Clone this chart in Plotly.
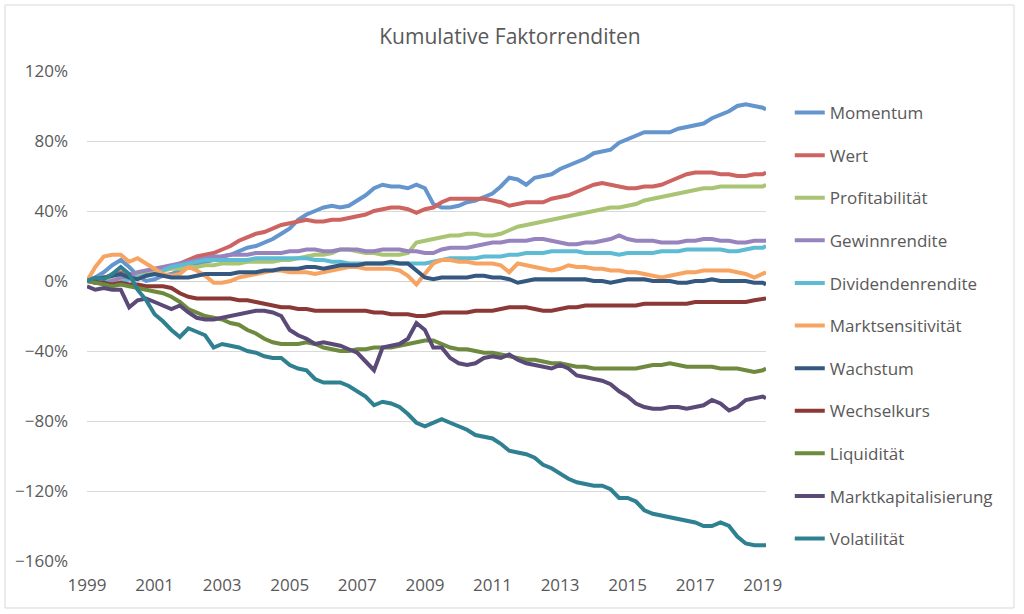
import pandas as pd
import plotly.graph_objects as go

# quarterly points 1999-2019 (values in %)
dates = list(pd.date_range("1999-01-01", "2019-01-01", freq="QS").strftime("%Y-%m-%d")) + ["2019-02-05"]

momentum = [0, 2, 5, 9,  12, 8, 3, 0,  1, 3, 4, 6,  8, 9, 11, 12,  14, 15, 17, 19,
            20, 22, 24, 27,  30, 35, 38, 40,  42, 43, 42, 43,  46, 49, 53, 55,  54, 54, 53, 55,
            53, 44, 42, 42,  43, 45, 46, 48,  50, 54, 59, 58,  55, 59, 60, 61,  64, 66, 68, 70,
            73, 74, 75, 79,  81, 83, 85, 85,  85, 85, 87, 88,  89, 90, 93, 95,  97, 100, 101, 100,
            99, 98]
wert = [0, 1, 2, 3,  5, 4, 3, 4,  5, 6, 8, 10,  12, 14, 15, 16,  18, 20, 23, 25,
        27, 28, 30, 32,  33, 34, 35, 34,  34, 35, 35, 36,  37, 38, 40, 41,  42, 42, 41, 39,
        41, 42, 45, 47,  47, 47, 47, 47,  46, 45, 43, 44,  45, 45, 45, 47,  48, 49, 51, 53,
        55, 56, 55, 54,  53, 53, 54, 54,  55, 57, 59, 61,  62, 62, 62, 61,  61, 60, 60, 61,
        61, 62]
profitabilitaet = [0, 1, 2, 1,  0, 2, 3, 4,  5, 6, 7, 7,  8, 8, 9, 9,  10, 10, 10, 11,
                   11, 11, 11, 12,  12, 13, 14, 15,  15, 16, 18, 18,  17, 16, 16, 15,  15, 15, 16, 22,
                   23, 24, 25, 26,  26, 27, 27, 26,  26, 27, 29, 31,  32, 33, 34, 35,  36, 37, 38, 39,
                   40, 41, 42, 42,  43, 44, 46, 47,  48, 49, 50, 51,  52, 53, 53, 54,  54, 54, 54, 54,
                   54, 55]
gewinnrendite = [0, 0, -1, 0,  2, 3, 5, 6,  7, 8, 9, 10,  11, 12, 13, 14,  14, 15, 15, 15,
                 16, 16, 16, 16,  17, 17, 18, 18,  17, 17, 18, 18,  18, 17, 17, 18,  18, 18, 17, 17,
                 16, 16, 18, 19,  19, 19, 20, 21,  22, 22, 23, 23,  23, 24, 24, 23,  22, 21, 21, 22,
                 22, 23, 24, 26,  24, 23, 23, 23,  22, 22, 22, 23,  23, 24, 24, 23,  23, 22, 22, 23,
                 23, 23]
dividendenrendite = [0, 1, 0, -2,  -1, 1, 2, 3,  4, 6, 8, 9,  10, 11, 12, 12,  12, 12, 12, 12,
                     13, 13, 13, 13,  13, 13, 13, 12,  12, 11, 11, 10,  10, 10, 10, 10,  10, 10, 10, 10,
                     10, 11, 12, 13,  13, 13, 13, 14,  14, 14, 15, 15,  16, 16, 16, 17,  17, 17, 17, 16,
                     16, 16, 16, 15,  16, 16, 16, 16,  17, 17, 17, 18,  18, 18, 18, 18,  17, 17, 18, 19,
                     19, 20]
marktsensitivitaet = [0, 8, 14, 15,  15, 11, 13, 10,  7, 4, 3, 4,  8, 6, 3, -1,  -1, 0, 2, 3,
                      4, 5, 6, 6,  5, 5, 5, 4,  5, 6, 7, 8,  8, 7, 7, 7,  7, 6, 3, -2,
                      4, 10, 12, 12,  11, 11, 10, 10,  10, 9, 5, 10,  9, 8, 7, 6,  7, 9, 8, 8,
                      7, 7, 6, 6,  5, 5, 4, 3,  2, 3, 4, 5,  5, 6, 6, 6,  6, 5, 4, 2,
                      4, 5]
wachstum = [0, 1, 2, 3,  4, 2, 1, 3,  4, 3, 2, 2,  2, 3, 4, 4,  4, 4, 5, 5,
            5, 6, 6, 7,  7, 7, 8, 8,  7, 8, 9, 9,  9, 10, 10, 10,  11, 10, 10, 6,
            2, 1, 2, 2,  2, 2, 3, 3,  2, 2, 1, -1,  0, 1, 1, 1,  1, 1, 1, 1,
            0, 0, -1, 0,  1, 1, 1, 0,  0, 0, -1, -1,  0, 0, 1, 0,  0, 0, 0, -1,
            -1, -2]
wechselkurs = [0, -1, -1, -2,  -1, -2, -2, -3,  -3, -3, -4, -7,  -9, -10, -10, -10,  -10, -10, -11, -11,
               -12, -13, -14, -15,  -15, -16, -16, -17,  -17, -17, -17, -17,  -17, -17, -18, -18,  -19, -19, -19, -20,
               -20, -19, -18, -18,  -18, -18, -17, -17,  -17, -16, -15, -15,  -15, -16, -17, -17,  -16, -15, -15, -14,
               -14, -14, -14, -14,  -14, -14, -13, -13,  -13, -13, -13, -13,  -12, -12, -12, -12,  -12, -12, -12, -11,
               -10, -10]
liquiditaet = [0, -1, -2, -3,  -2, -3, -4, -5,  -6, -7, -9, -12,  -16, -18, -20, -21,  -22, -24, -25, -28,
               -30, -33, -35, -36,  -36, -36, -35, -36,  -38, -39, -40, -40,  -39, -39, -38, -38,  -38, -37, -36, -35,
               -34, -34, -36, -38,  -39, -39, -40, -41,  -41, -42, -43, -44,  -45, -45, -46, -47,  -47, -48, -49, -49,
               -50, -50, -50, -50,  -50, -50, -49, -48,  -48, -47, -48, -49,  -49, -49, -49, -50,  -50, -50, -51, -52,
               -51, -50]
marktkap = [-3, -5, -4, -5,  -5, -15, -11, -10,  -12, -14, -16, -14,  -18, -21, -22, -22,  -21, -20, -19, -18,
            -17, -17, -18, -20,  -28, -31, -33, -36,  -35, -36, -37, -39,  -41, -46, -51, -38,  -37, -36, -33, -24,
            -28, -38, -38, -44,  -47, -48, -47, -44,  -43, -44, -42, -45,  -47, -48, -49, -50,  -48, -50, -54, -55,
            -56, -57, -59, -63,  -66, -70, -72, -73,  -73, -72, -72, -73,  -72, -71, -68, -70,  -74, -72, -68, -67,
            -66, -67]
volatilitaet = [0, 2, 1, 4,  8, 4, -5, -11,  -19, -23, -28, -32,  -27, -29, -31, -38,  -36, -37, -38, -40,
                -41, -43, -44, -44,  -48, -50, -51, -56,  -58, -58, -58, -60,  -63, -66, -71, -69,  -70, -72, -76, -81,
                -83, -81, -79, -81,  -83, -85, -88, -89,  -90, -93, -97, -98,  -99, -101, -105, -107,  -110, -113, -115, -116,
                -117, -117, -119, -124,  -124, -126, -131, -133,  -134, -135, -136, -137,  -138, -140, -140, -138,  -140, -146, -150, -151,
                -151, -151]

series = [
    ("Momentum", momentum, "#6495CD"),
    ("Wert", wert, "#CD6461"),
    ("Profitabilität", profitabilitaet, "#A9C574"),
    ("Gewinnrendite", gewinnrendite, "#9783BE"),
    ("Dividendenrendite", dividendenrendite, "#5DBBD3"),
    ("Marktsensitivität", marktsensitivitaet, "#F7A462"),
    ("Wachstum", wachstum, "#34587F"),
    ("Wechselkurs", wechselkurs, "#8B3836"),
    ("Liquidität", liquiditaet, "#6D8A3E"),
    ("Marktkapitalisierung", marktkap, "#5B4A78"),
    ("Volatilität", volatilitaet, "#2F8191"),
]

year_ticks = ["1999", "2001", "2003", "2005", "2007", "2009", "2011", "2013", "2015", "2017", "2019"]

fig = go.Figure()
for name, vals, col in series:
    fig.add_trace(go.Scatter(x=dates, y=vals, name=name, mode="lines", legendgroup=name,
                             line=dict(color=col, width=4)))

font = "Open Sans"
fig.update_layout(
    width=1024, height=614,
    paper_bgcolor="white", plot_bgcolor="white",
    margin=dict(l=87, r=258, t=71, b=53),
    title=dict(text="Kumulative Faktorrenditen", x=0.498, xref="container", y=1 - 37 / 614,
               yanchor="middle", font=dict(family=font, size=21, color="#595959")),
    font=dict(family=font, size=17, color="#595959"),
    showlegend=True,
    legend=dict(x=1.035, xanchor="left", y=0.951, yanchor="top", tracegroupgap=17.5,
                font=dict(family=font, size=17, color="#595959"), bgcolor="rgba(0,0,0,0)"),
    xaxis=dict(type="date", range=["1999-01-01", "2019-02-05"],
               tickvals=[t + "-01-01" for t in year_ticks], ticktext=year_ticks,
               showgrid=False, zeroline=False, showline=False, ticks="",
               ticklabelstandoff=12),
    yaxis=dict(range=[-160, 120], dtick=40, tick0=0, ticksuffix="%",
               showgrid=True, gridcolor="#D9D9D9", gridwidth=1,
               zeroline=True, zerolinecolor="#D0D0D0", zerolinewidth=1,
               showline=False, ticks="", ticklabelstandoff=18),
)

# chart-area border like the Excel original
fig.add_shape(type="rect", xref="paper", yref="paper",
              x0=-0.1208, x1=1.3652, y0=-0.0959, y1=1.1347,
              line=dict(color="#D9D9D9", width=1), layer="below")

# drop the default page margin so the figure sits at the window's top-left corner
fig.write_html("out.html", config={"displayModeBar": False},
               post_script="document.body.style.margin = '0px';")
